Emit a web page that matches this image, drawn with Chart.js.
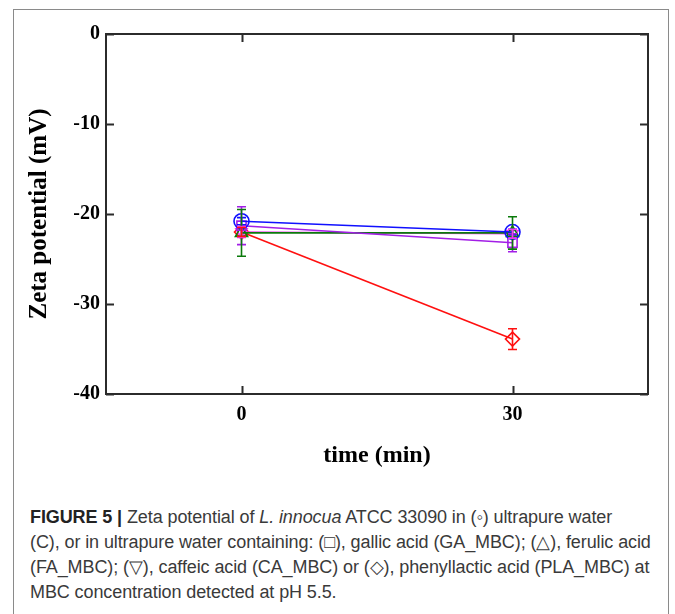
<!DOCTYPE html>
<html>
<head>
<meta charset="utf-8">
<script src="https://cdn.jsdelivr.net/npm/chart.js@4"></script>
<style>
  html, body { margin: 0; padding: 0; background: #fff; }
  body { width: 675px; height: 614px; position: relative; overflow: hidden; }
  #frame {
    position: absolute; left: 13px; top: 9px; width: 656px; height: 640px;
    border: 1.5px solid #8a8a8a; box-sizing: border-box;
  }
  #chart { position: absolute; left: 0; top: 0; }
  #caption {
    position: absolute; left: 30px; top: 505px;
    font-family: "Liberation Sans", Arial, sans-serif; font-size: 18px;
    line-height: 25px; color: #3a3a3a; white-space: nowrap;
    letter-spacing: -0.1px;
  }
  #caption b { color: #222; }
</style>
</head>
<body>
<div id="frame"></div>
<canvas id="chart" width="675" height="480"></canvas>
<div id="caption">
  <b>FIGURE 5 |</b> Zeta potential of <i>L. innocua</i> ATCC 33090 in (◦) ultrapure water<br>
  (C), or in ultrapure water containing: (□), gallic acid (GA_MBC); (△), ferulic acid<br>
  (FA_MBC); (▽), caffeic acid (CA_MBC) or (◇), phenyllactic acid (PLA_MBC) at<br>
  MBC concentration detected at pH 5.5.
</div>
<script>
(function () {
  'use strict';

  // ─── Data ─────────────────────────────────────────────────────────────────

  const timePoints = [0, 30];
  const xTickValues = [0, 30];
  const yTickValues = [0, -10, -20, -30, -40];

  const cValues = [-20.8, -22.0];
  const cErrors = [0.4, 0.3];

  const gaValues = [-21.3, -23.2];
  const gaErrors = [2.1, 1.0];

  const faValues = [-22.1, -22.1];
  const faErrors = [2.6, 1.8];

  const caValues = [-22.0, -22.2];
  const caErrors = [0.6, 0.5];

  const plaValues = [-22.0, -33.9];
  const plaErrors = [0.5, 1.15];

  // ─── Helpers ──────────────────────────────────────────────────────────────

  function toPoints(values) {
    return values.map(function (v, i) { return { x: timePoints[i], y: v }; });
  }

  function series(label, values, errors, color, style, radius, rotation) {
    return {
      label: label,
      data: toPoints(values),
      errors: errors,
      borderColor: color,
      backgroundColor: 'rgba(0,0,0,0)',
      pointBorderColor: color,
      pointBackgroundColor: 'rgba(0,0,0,0)',
      pointStyle: style,
      pointRadius: radius,
      pointRotation: rotation || 0,
      pointBorderWidth: 1.6,
      borderWidth: 1.6,
      tension: 0,
      fill: false,
    };
  }

  // Vertical error bars with caps, drawn through the y scale
  const errorBars = {
    id: 'errorBars',
    afterDatasetsDraw: function (chart) {
      const ctx = chart.ctx;
      const ys = chart.scales.y;
      const xs = chart.scales.x;
      chart.data.datasets.forEach(function (ds) {
        ctx.save();
        ctx.strokeStyle = ds.borderColor;
        ctx.lineWidth = 1.6;
        ds.data.forEach(function (p, i) {
          const e = ds.errors[i];
          const px = xs.getPixelForValue(p.x);
          const top = ys.getPixelForValue(p.y + e);
          const bot = ys.getPixelForValue(p.y - e);
          ctx.beginPath();
          ctx.moveTo(px, top); ctx.lineTo(px, bot);
          ctx.moveTo(px - 4.5, top); ctx.lineTo(px + 4.5, top);
          ctx.moveTo(px - 4.5, bot); ctx.lineTo(px + 4.5, bot);
          ctx.stroke();
        });
        ctx.restore();
      });
    }
  };

  // Box frame plus inward ticks on all four sides
  const frameTicks = {
    id: 'frameTicks',
    afterDraw: function (chart) {
      const ctx = chart.ctx;
      const a = chart.chartArea;
      const xs = chart.scales.x;
      const ys = chart.scales.y;
      const len = 8;
      ctx.save();
      ctx.strokeStyle = '#2b2b2b';
      ctx.lineWidth = 2;
      ctx.strokeRect(a.left, a.top, a.right - a.left, a.bottom - a.top);
      ctx.beginPath();
      xTickValues.forEach(function (v) {
        const px = Math.round(xs.getPixelForValue(v)) + 0.5;
        ctx.moveTo(px, a.bottom); ctx.lineTo(px, a.bottom - len);
        ctx.moveTo(px, a.top); ctx.lineTo(px, a.top + len);
      });
      yTickValues.forEach(function (v) {
        const py = Math.round(ys.getPixelForValue(v)) + 0.5;
        ctx.moveTo(a.left, py); ctx.lineTo(a.left + len, py);
        ctx.moveTo(a.right, py); ctx.lineTo(a.right - len, py);
      });
      ctx.stroke();
      ctx.restore();
    }
  };

  const serif = '"Liberation Serif", "Times New Roman", serif';

  new Chart(document.getElementById('chart'), {
    type: 'line',
    data: {
      datasets: [
        series('C', cValues, cErrors, '#1010ff', 'circle', 7.5),
        series('GA_MBC', gaValues, gaErrors, '#a21ee6', 'rect', 6.5),
        series('FA_MBC', faValues, faErrors, '#0b7a0b', 'triangle', 7),
        series('CA_MBC', caValues, caErrors, '#f03cf0', 'triangle', 6.5, 180),
        series('PLA_MBC', plaValues, plaErrors, '#ff1010', 'rectRot', 7),
      ],
    },
    options: {
      responsive: false,
      animation: false,
      layout: { padding: { top: 34, right: 27, left: 0, bottom: 0 } },
      plugins: { legend: { display: false }, tooltip: { enabled: false } },
      scales: {
        x: {
          type: 'linear',
          min: -15,
          max: 45,
          afterBuildTicks: function (scale) {
            scale.ticks = xTickValues.map(function (v) { return { value: v }; });
          },
          afterFit: function (scale) { scale.height = 86; },
          grid: { display: false, drawTicks: false },
          border: { display: false },
          ticks: {
            color: '#000',
            padding: 9,
            font: { family: serif, size: 20, weight: 'bold' },
            callback: function (v) { return String(v); },
          },
          title: {
            display: true,
            text: 'time (min)',
            color: '#000',
            font: { family: serif, size: 24, weight: 'bold' },
            padding: { top: 0, bottom: 10 },
          },
        },
        y: {
          min: -40,
          max: 0,
          afterBuildTicks: function (scale) {
            scale.ticks = yTickValues.map(function (v) { return { value: v }; });
          },
          afterFit: function (scale) { scale.width = 106; },
          grid: { display: false, drawTicks: false },
          border: { display: false },
          ticks: {
            color: '#000',
            padding: 6,
            font: { family: serif, size: 20, weight: 'bold' },
            callback: function (v) { return String(v); },
          },
          title: {
            display: true,
            text: 'Zeta potential (mV)',
            color: '#000',
            font: { family: serif, size: 25, weight: 'bold' },
            padding: { top: 25, bottom: 0 },
          },
        },
      },
    },
    plugins: [errorBars, frameTicks],
  });
}());
</script>
</body>
</html>
